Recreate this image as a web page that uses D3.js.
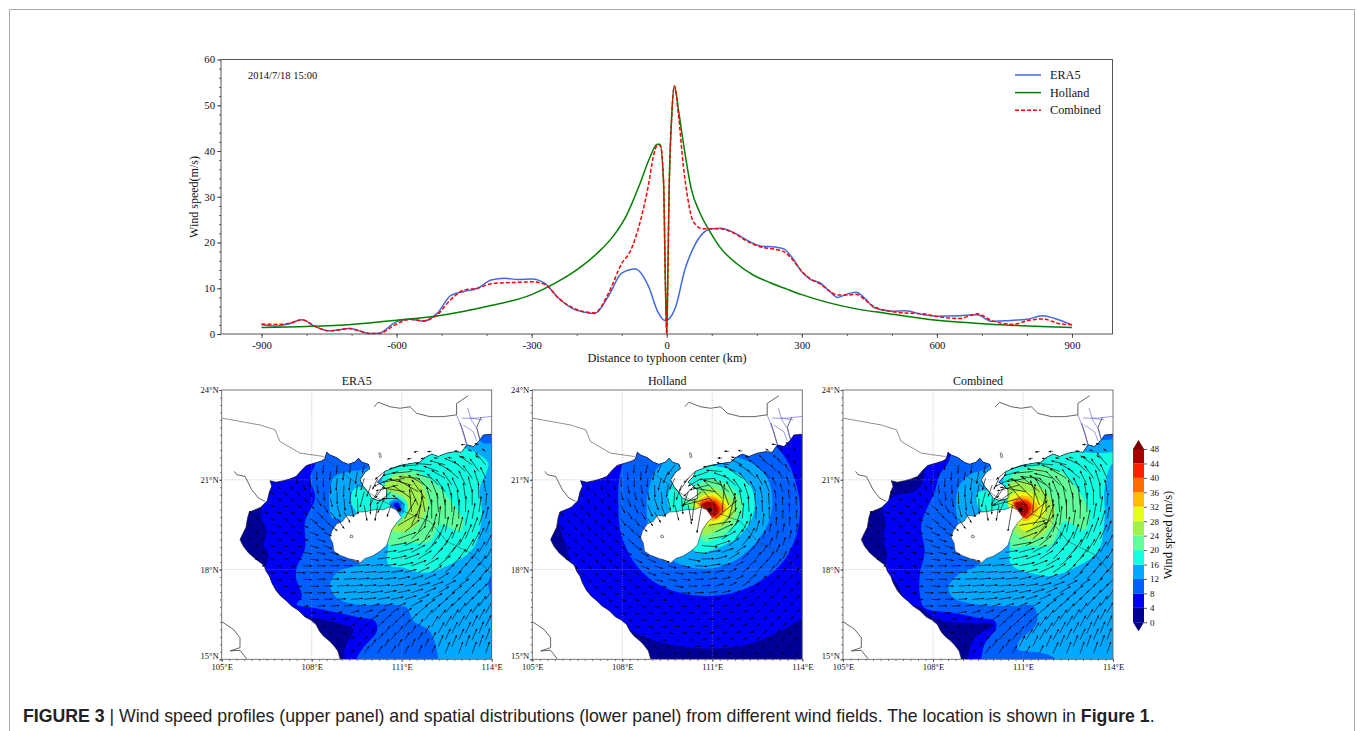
<!DOCTYPE html>
<html>
<head>
<meta charset="utf-8">
<title></title>
<script src="https://d3js.org/d3.v7.min.js"></script>
<style>
body { margin: 0; background: #fff; }
svg { display: block; }
text { font-family: "Liberation Serif", serif; fill: #111; }
.axis path, .axis line { stroke: #333; stroke-width: 0.8px; }
.axis text { font-family: "Liberation Serif", serif; fill: #111; }
.caption { font-family: "Liberation Sans", sans-serif; font-size: 17.7px; fill: #222; }
</style>
</head>
<body>
<script type="text/javascript">
// ---- wind profile, upper panel
var eraKm = [-900,-870,-840,-810,-780,-750,-704,-680,-660,-640,-600,-570,-540,-510,-480,-450,-420,-390,-360,-330,-300,-270,-240,-210,-180,-160,-130,-100,-70,-40,-20,-5,0,5,20,40,60,80,100,120,150,180,210,240,260,280,300,320,340,360,380,400,420,440,460,500,530,570,600,650,690,720,770,800,835,870,900];
var eraSpeed = [2,1.7,2.2,3.1,1.6,0.7,1.2,0.6,0.1,0.15,2.7,3.2,2.8,4.5,8.4,9.3,10,11.8,12.2,11.9,12,11,7.8,5.6,4.7,4.5,8.2,13.3,14.2,10.3,4.9,3,3,3.3,6,14,19,22,23,23.1,22.1,20.4,19.2,19,18.6,16.5,13.6,11.9,11.2,9.5,8,8.7,9.1,7.8,5.8,5,5.1,4.2,3.9,4,4.2,2.8,3,3.2,4,3.1,2];
var hollandKm = [-900,-800,-700,-600,-500,-400,-300,-250,-200,-155,-118,-89,-59,-37,-21,-15,-7,-3,0,2,5,11,17,26,37,55,74,96,118,155,192,230,267,300,415,489,600,711,900];
var hollandSpeed = [1.4,1.65,2.1,3,4.1,6,8.6,11,14,17.6,21.5,26,33,38.7,41.5,41.5,33,11,0,10,30,47.5,54.2,49,41.7,31.5,26.4,22.4,19,15.4,12.9,11.2,9.8,8.6,5.6,4.5,3,2.2,1.4];
var combinedKm = [-900,-870,-840,-810,-780,-750,-704,-660,-640,-600,-570,-540,-510,-480,-450,-420,-390,-360,-330,-300,-270,-240,-210,-180,-160,-130,-100,-80,-60,-40,-30,-21,-14,-7,-3,0,2,5,11,17,26,37,45,55,65,80,100,120,150,180,210,240,260,280,300,320,340,360,380,400,420,440,460,500,530,570,600,650,690,720,770,800,835,870,900];
var combinedSpeed = [2.2,2.1,2.3,3.1,1.6,0.7,1.2,0.1,0.1,2.2,3.2,2.9,4.2,7.5,9.6,10,11,11.2,11.3,11.4,10.8,7.8,5.8,4.8,4.6,8.8,15.4,18.3,24.2,32.9,38.7,41.2,41.2,33,11,0,10,30,47.5,54.2,48,36.6,30.7,25.6,23.8,23,23,23,22,20.2,19,18.5,18,16.2,13.7,12,11,9.5,8.5,8.5,8.7,7.5,6,4.9,4.6,4.4,3.8,3.4,4.4,3,2.1,2.9,3.3,2.3,2];
var profileNames = ["ERA5", "Holland", "Combined"];
var profileColors = ["#4169e1", "#008000", "#ff0000"];
var kmTicks = [-900,-600,-300,0,300,600,900];
var speedTicks = [0,10,20,30,40,50,60];

// ---- colour levels shared by the maps and the colour bar
var levels = [0,4,8,12,16,20,24,28,32,36,40,44];
var levelColors = ["#000096","#0000f5","#0060ff","#00a8ff","#12ffe2","#60ff9a","#a0f050","#e6ff14","#ffbc00","#ff6c00","#ff2000","#a80000"];
var barTicks = [0,4,8,12,16,20,24,28,32,36,40,44,48];

// ---- geography, lon/lat
var seaRing = [[108.95,15],[108.87,15.28],[108.72,15.48],[108.59,15.61],[108.39,15.78],[108.26,15.94],[108.14,16.17],[107.94,16.33],[107.78,16.41],[107.56,16.63],[107.33,16.78],[107.17,16.94],[106.97,17.11],[106.81,17.3],[106.67,17.56],[106.59,17.78],[106.48,17.94],[106.41,18.14],[106.22,18.28],[106.06,18.41],[105.89,18.56],[105.72,18.78],[105.61,19],[105.7,19.19],[105.81,19.41],[105.86,19.72],[105.92,19.92],[106.11,20],[106.3,20.08],[106.52,20.3],[106.59,20.59],[106.67,20.78],[106.61,20.97],[106.81,20.92],[107.06,20.97],[107.28,21.03],[107.48,21.11],[107.67,21.33],[107.83,21.48],[108.11,21.56],[108.33,21.63],[108.44,21.7],[108.5,21.92],[108.61,21.83],[108.83,21.74],[109.03,21.59],[109.22,21.52],[109.44,21.59],[109.56,21.72],[109.67,21.59],[109.89,21.52],[109.94,21.37],[109.78,21.26],[109.61,21],[109.72,20.78],[109.86,20.61],[110,20.39],[110.22,20.3],[110.5,20.37],[110.5,20.67],[110.33,20.83],[110.19,20.92],[110.37,21.11],[110.44,21.28],[110.67,21.37],[110.94,21.48],[111.28,21.54],[111.61,21.59],[111.78,21.74],[112,21.86],[112.22,21.78],[112.5,21.89],[112.78,21.94],[113,21.92],[113.17,22.17],[113.39,22.11],[113.61,22.33],[113.72,22.5],[114,22.52],[114,15]];
var hainanRing = [[108.67,19.28],[108.83,19.52],[109.03,19.61],[109.17,19.81],[109.39,19.78],[109.56,19.92],[109.83,19.94],[110.11,20],[110.39,20],[110.61,20.09],[110.81,20],[111,19.74],[110.83,19.56],[110.67,19.33],[110.58,19.06],[110.5,18.81],[110.28,18.61],[110,18.44],[109.78,18.37],[109.61,18.22],[109.39,18.3],[109.17,18.39],[108.94,18.48],[108.74,18.61],[108.7,18.89],[108.61,19.06]];
var islets = [[[110.24,21.9],[110.3,21.88],[110.32,21.76],[110.26,21.74]],[[109.3,19.16],[109.38,19.12],[109.36,19.06],[109.28,19.08]]];
var trackLine = [[105,23.06],[106.28,22.83],[106.78,22.67],[106.94,22.28],[107.61,21.89],[108.39,21.78],[109.17,21.11],[110.17,20.39],[111.06,19.94],[111.94,19.61],[112.5,18.94],[113.39,18.5],[114,17.83]];
var darkRivers = [
  [[110.08,23.44],[110.22,23.59],[110.61,23.44],[110.94,23.39],[111.28,23.44],[111.5,23.22],[111.94,23.11],[112.39,23.11],[112.83,23.17]],
  [[105.42,21.28],[105.5,21.17],[105.78,21.11],[105.89,20.89],[106,20.67],[106.22,20.39],[106.44,20.28]],
  [[105,16.26],[105.39,16],[105.61,15.72],[105.61,15.39],[105.28,15.28],[105.61,15.3],[105.83,15.02]],
  [[112.83,23.17],[112.83,23.55],[113.22,23.81]],
  [[113.17,22.17],[113.05,22.6],[112.95,22.9]],
  [[113.61,22.33],[113.5,22.75],[113.65,23.1]]
];
var blueRivers = [
  [[112.83,23.17],[113,22.72],[113.17,22.17]],
  [[113,23.06],[113.5,23.06],[114,23.12]],
  [[113.28,23.06],[113.5,22.72],[113.61,22.33]],
  [[113.05,22.83],[113.39,22.6],[113.5,22.3]],
  [[113.2,23.4],[113.3,23.06],[113.7,23]]
];
var eyePoint = [110.92,20];

// ---- filled wind contours, each row is [lower level, ring in lon/lat]
var era5Bands = [
  [4,[[109.11,14.9],[109.11,15.39],[109.39,16],[108.83,16.22],[108.39,16.33],[107.83,16.44],[107.28,16.83],[106.86,17.28],[106.61,17.61],[106.44,17.94],[106.56,18.5],[106.41,18.83],[106.5,19.28],[106.33,19.72],[106.33,20.11],[106.33,21.17],[107.28,24.06],[114.5,24.2],[114.5,14.5],[109.11,14.5]]],
  [8,[[109.5,14.5],[109.5,15.02],[109.72,15.39],[110.17,15.94],[110.11,16.28],[109.61,16.39],[108.83,16.56],[108.06,16.72],[107.5,16.83],[107.67,17.11],[107.48,17.72],[107.5,18.06],[107.78,18.72],[107.78,19.61],[108.11,20.39],[107.94,21.06],[108.11,21.5],[108.17,22.28],[109,24.2],[114.5,24.2],[114.5,14.5]]],
  [12,[[112.22,14.5],[112.22,15.02],[111.94,15.94],[111.39,16.28],[111.17,16.72],[110.61,16.83],[109.5,16.83],[108.83,17.06],[108.61,17.5],[108.89,17.94],[109.61,18.22],[109.28,18.94],[108.94,19.67],[108.67,19.72],[108.72,21.06],[109.28,21.28],[109.83,21.37],[110.17,21.72],[111.72,22.28],[113.5,22.39],[113.72,22.22],[114,22.22],[114.5,22.2],[114.5,14.5]]],
  [8,[[114.2,17.9],[113.93,17.72],[113.92,17.3],[114.2,17]]],
  [16,[[110.56,18.94],[110.56,18.17],[111.06,18.06],[111.72,17.89],[112.61,18.17],[113.39,18.72],[113.67,19.83],[113.61,20.72],[113.83,21.28],[113.89,21.56],[113.5,21.89],[112.83,22.11],[111.17,21.94],[110.5,21.39],[110.33,20.83],[110.5,20.06]]],
  [16,[[109.83,20.78],[109.39,20.67],[109.33,20.22],[109.61,19.83],[110.28,19.83],[110.61,20.17],[110.5,20.72],[110.11,20.83]]],
  [20,[[110.5,20.72],[110.61,21.11],[111.17,21.33],[111.72,21.17],[112.28,20.72],[112.72,20.17],[113.06,19.61],[112.94,19.28],[112.28,19.5],[111.94,18.94],[111.17,18.89],[110.56,18.83],[110.61,19.28],[111.06,19.72]]],
  [24,[[110.41,20.72],[110.61,21.03],[111.17,21.17],[111.61,20.94],[111.86,20.28],[111.78,19.89],[111.5,19.5],[111.06,19.26],[110.67,19.33],[111.06,19.72],[111.22,20.11],[111.06,20.44],[110.67,20.61]]],
  [16,[[110.5,20.28],[110.83,20.44],[111.17,20.22],[111.19,19.92],[111,19.72],[110.61,20.06]]],
  [12,[[110.58,20.23],[110.83,20.37],[111.08,20.19],[111.08,19.92],[110.94,19.83],[110.66,20.03]]],
  [8,[[110.64,20.21],[110.83,20.3],[111,20.17],[111,19.97],[110.7,20.06]]],
  [4,[[110.74,20.19],[110.86,20.24],[110.94,20.11],[110.92,20],[110.78,20.06]]]
];
var hollandBands = [
  [4,[[105.83,19.72],[106.08,18.94],[106.31,18.17],[106.58,17.61],[107.25,16.72],[107.92,16.17],[108.81,15.72],[109.92,15.44],[111.03,15.36],[112.14,15.49],[113.14,15.88],[114,16.37],[114.5,16.7],[115,20],[114.5,23.4],[111,25.7],[107.2,24.8],[105.8,22.3]]],
  [8,[[107.87,20.06],[107.94,19.28],[108.37,18.28],[109.03,17.61],[109.92,17.22],[110.81,17.11],[111.7,17.22],[112.59,17.61],[113.37,18.28],[113.81,19.17],[113.92,20.17],[113.7,21.17],[113.37,21.83],[112.81,22.39],[111.72,22.94],[109.48,23.06],[108.37,22.28],[107.92,21.17]]],
  [12,[[108.81,20.06],[108.89,19.39],[109.28,18.61],[109.94,18.17],[110.81,18.03],[111.61,18.22],[112.39,18.83],[112.89,19.61],[113,20.39],[112.83,21.06],[112.33,21.56],[111.72,21.78],[110.83,22],[109.83,21.83],[109.17,21.39],[108.89,20.72]]],
  [16,[[109.56,20.06],[109.56,20.61],[109.83,21.06],[110.39,21.39],[111.17,21.44],[111.83,21.22],[112.28,20.78],[112.41,20.22],[112.28,19.61],[111.83,19.06],[111.17,18.72],[110.5,18.56],[110.06,19.28]]],
  [20,[[110.03,20.22],[110.39,20.78],[111.06,21],[111.67,20.72],[112,20.17],[111.83,19.61],[111.39,19.17],[110.72,18.94],[110.5,19.5],[110.5,19.94]]],
  [24,[[110.28,20.22],[110.5,20.56],[111.06,20.72],[111.5,20.5],[111.78,20.11],[111.67,19.72],[111.28,19.39],[110.67,19.17],[110.56,19.72]]],
  [28,[[110.44,20.22],[110.67,20.47],[111.06,20.56],[111.44,20.33],[111.61,20.06],[111.44,19.72],[111.11,19.5],[110.72,19.5],[110.61,19.83]]],
  [32,[[110.5,20.22],[110.72,20.42],[111.06,20.44],[111.33,20.28],[111.47,20.06],[111.33,19.78],[111.06,19.63],[110.78,19.78]]],
  [36,[[110.58,20.2],[110.78,20.37],[111.06,20.37],[111.28,20.22],[111.39,20.03],[111.24,19.78],[111.04,19.7],[110.9,19.83]]],
  [40,[[110.61,20.19],[110.81,20.3],[111.06,20.3],[111.22,20.14],[111.28,20],[111.14,19.78],[111,19.74]]],
  [44,[[110.67,20.17],[110.83,20.26],[111.03,20.22],[111.17,20.08],[111.17,19.89],[111.03,19.78]]]
];
var combinedBands = [
  [4,[[109.17,14.5],[109.17,15.02],[109.39,15.72],[110.03,16.14],[108.94,16.22],[108.17,16.33],[107.61,16.72],[107.06,16.94],[106.86,17.44],[106.44,18.06],[106.48,18.5],[106.37,18.94],[106.41,19.61],[106.33,20.11],[106.83,20.5],[107.28,20.56],[107.61,20.83],[107.72,21.28],[107.28,24.06],[114.5,24.2],[114.5,14.5]]],
  [8,[[109.61,14.5],[109.61,15.02],[109.72,15.5],[110.11,16.06],[110.06,16.28],[109.5,16.39],[108.61,16.56],[107.72,16.72],[107.56,17.17],[107.56,17.83],[107.72,18.61],[107.61,19.5],[108.06,20.61],[108.22,21.17],[108.5,21.56],[108.72,22.28],[109.5,24.2],[114.5,24.2],[114.5,14.5]]],
  [12,[[112.07,14.5],[112.07,15.02],[111.57,15.22],[110.84,15.33],[110.84,15.56],[111.46,16.22],[111.34,16.78],[110.79,16.78],[109.46,16.83],[108.68,17.06],[108.51,17.39],[108.84,17.83],[109.57,18.22],[109.28,18.94],[108.83,19.61],[108.84,20.72],[109.23,21.17],[109.79,21.37],[110.17,21.72],[111.72,22.28],[113.5,22.39],[113.72,22.33],[114.5,22.3],[114.5,14.5]]],
  [16,[[110.56,18.94],[110.61,18.17],[111.5,17.83],[111.94,17.78],[112.72,18.06],[113.5,18.61],[113.72,19.72],[113.72,20.72],[114,21.56],[114.5,21.6],[114.5,21.9],[113.5,21.89],[111.17,21.94],[110.5,21.39],[110.33,20.83],[110.5,20.06]]],
  [16,[[109.5,20.56],[109.5,20.11],[109.78,19.89],[110.33,19.89],[110.61,20.28],[110.39,20.72],[109.94,20.67]]],
  [20,[[110.5,20.83],[110.67,21.17],[111.5,21.44],[112.17,21.33],[112.61,20.94],[113.06,20.28],[113.22,19.83],[113.06,19.33],[112.39,19.61],[111.94,18.83],[111.06,18.78],[110.61,18.72],[110.61,19.28]]],
  [24,[[110.44,20.67],[110.67,20.92],[111.17,20.94],[111.72,20.61],[112.06,20.06],[111.94,19.5],[111.5,19.06],[111.06,19.06],[110.72,19.28],[110.83,19.61]]],
  [28,[[110.5,20.28],[110.72,20.56],[111.17,20.61],[111.61,20.28],[111.78,20.06],[111.5,19.56],[111.06,19.28],[110.83,19.5]]],
  [32,[[110.61,20.28],[110.83,20.44],[111.17,20.44],[111.44,20.22],[111.5,20],[111.28,19.72],[111.06,19.61],[110.89,19.78]]],
  [36,[[110.67,20.22],[110.89,20.37],[111.17,20.33],[111.36,20.11],[111.33,19.89],[111.11,19.7],[111,19.74]]],
  [40,[[110.7,20.22],[110.89,20.3],[111.14,20.28],[111.28,20.11],[111.22,19.89],[111.06,19.72]]],
  [44,[[110.74,20.2],[110.92,20.26],[111.11,20.19],[111.19,20.06],[111.14,19.89],[111.02,19.78]]]
];

// ---- wind vectors: direction in degrees (0 east, 90 north), _ where none was drawn
// the vectors sit on two staggered grids, A and B
var _ = null;
var lonsA = [105.25,105.7,106.15,106.6,107.05,107.5,107.95,108.4,108.85,109.3,109.75,110.2,110.65,111.1,111.55,112,112.45,112.9,113.35,113.8];
var latsA = [22.4,21.95,21.5,21.05,20.6,20.15,19.7,19.25,18.8,18.35,17.9,17.45,17,16.55,16.1,15.65,15.2];
var lonsB = [105.475,105.925,106.375,106.825,107.275,107.725,108.175,108.625,109.075,109.525,109.975,110.425,110.875,111.325,111.775,112.225,112.675,113.125,113.575];
var latsB = [22.175,21.725,21.275,20.825,20.375,19.925,19.475,19.025,18.575,18.125,17.675,17.225,16.775,16.325,15.875,15.425];
var era5DirA = [
  [_,_,_,_,_,_,_,_,_,_,_,_,_,_,_,_,_,_,_,_],
  [_,_,_,_,_,_,_,_,_,_,_,_,_,_,190,185,_,175,160,145],
  [_,_,_,_,_,_,_,265,265,262,258,_,_,195,185,175,165,155,145,130],
  [_,_,_,_,_,275,270,268,265,262,255,245,205,190,175,165,150,140,125,115],
  [_,_,_,330,320,310,290,275,270,265,255,240,220,170,150,135,125,115,105,100],
  [_,_,_,345,340,335,320,300,285,285,280,260,250,140,115,105,100,95,90,85],
  [_,_,350,345,340,335,325,315,305,_,_,_,_,60,80,90,90,88,80,78],
  [_,_,345,345,345,340,338,335,_,_,_,_,_,40,60,75,78,75,70,70],
  [_,_,350,350,350,348,345,340,_,_,_,_,10,25,40,55,62,62,62,62],
  [_,_,355,355,355,355,352,350,348,345,_,8,12,20,32,45,50,55,58,60],
  [_,_,_,350,355,357,358,0,2,5,5,5,10,15,25,35,42,48,52,55],
  [_,_,_,_,355,355,357,0,3,5,5,5,8,10,15,20,28,35,42,48],
  [_,_,_,_,_,0,0,2,5,5,8,10,12,18,24,30,38,45,50,55],
  [_,_,_,_,_,_,5,5,10,15,20,25,30,35,40,45,50,55,55,60],
  [_,_,_,_,_,_,_,15,20,30,35,40,45,50,55,58,60,62,65,65],
  [_,_,_,_,_,_,_,_,30,40,45,50,55,58,60,62,65,65,67,70],
  [_,_,_,_,_,_,_,_,_,50,55,58,60,62,65,65,68,70,70,72]
];
var era5DirB = [
  [_,_,_,_,_,_,_,_,_,_,_,_,_,_,_,_,_,180,165],
  [_,_,_,_,_,_,_,_,_,_,_,_,_,195,190,178,170,160,145],
  [_,_,_,_,_,_,268,265,263,260,_,220,195,185,172,160,150,138,125],
  [_,_,_,315,305,290,278,272,268,262,250,235,195,165,150,135,125,115,108],
  [_,_,_,340,330,318,300,282,275,272,268,245,180,145,125,112,105,98,92],
  [_,350,348,345,340,330,315,305,300,_,_,_,_,95,100,95,92,88,82],
  [_,345,345,342,340,335,328,322,_,_,_,_,30,65,78,84,82,78,72],
  [_,350,348,346,344,342,340,_,_,_,_,_,20,42,58,68,70,68,65],
  [_,_,352,352,351,350,348,345,_,_,_,8,15,28,42,52,56,58,60],
  [_,_,352,355,356,358,0,2,2,5,6,8,12,20,30,40,46,52,55],
  [_,_,_,352,355,357,0,2,4,5,6,8,12,18,25,32,40,46,50],
  [_,_,_,_,357,0,0,3,5,6,8,10,12,18,24,30,36,44,48],
  [_,_,_,_,_,2,3,5,8,12,15,18,22,28,34,40,46,50,55],
  [_,_,_,_,_,_,12,15,22,28,32,36,42,46,52,55,58,60,62],
  [_,_,_,_,_,_,_,25,35,42,48,52,56,60,60,63,64,65,68],
  [_,_,_,_,_,_,_,_,45,52,56,60,62,65,66,68,68,70,70]
];
var hollandDirA = [
  [_,_,_,_,_,_,_,_,_,_,_,_,_,_,_,_,_,_,_,_],
  [_,_,_,_,_,_,_,_,_,_,_,_,_,_,180,165,_,145,140,135],
  [_,_,_,_,_,_,_,265,255,245,235,_,_,190,170,155,145,140,130,125],
  [_,_,_,_,_,280,275,270,265,255,245,235,210,185,160,145,135,128,122,118],
  [_,_,_,295,295,290,285,285,280,275,265,250,215,170,140,125,118,112,108,106],
  [_,_,_,300,300,300,298,295,292,290,285,280,260,130,110,100,96,94,92,92],
  [_,_,305,305,305,305,305,305,305,_,_,_,_,40,75,85,88,90,90,88],
  [_,_,310,310,310,312,315,318,_,_,_,_,_,25,50,65,73,78,80,82],
  [_,_,318,320,320,322,325,328,_,_,_,_,355,18,37,52,62,69,73,75],
  [_,_,325,325,328,330,332,335,338,340,_,350,2,15,31,43,53,60,66,70],
  [_,_,_,330,332,333,335,338,342,345,350,355,3,15,27,37,46,53,59,64],
  [_,_,_,_,335,336,338,342,345,348,352,358,5,15,25,33,41,48,54,58],
  [_,_,_,_,_,340,342,345,348,352,356,0,5,13,22,30,38,45,50,55],
  [_,_,_,_,_,_,345,348,351,354,358,2,6,13,20,28,35,40,46,50],
  [_,_,_,_,_,_,_,350,353,356,0,3,7,13,20,26,32,38,43,47],
  [_,_,_,_,_,_,_,_,355,358,1,4,8,13,19,25,30,35,40,44],
  [_,_,_,_,_,_,_,_,_,0,3,6,9,13,18,23,28,33,37,41]
];
var hollandDirB = [
  [_,_,_,_,_,_,_,_,_,_,_,_,_,_,_,_,_,175,150],
  [_,_,_,_,_,_,_,_,_,_,_,_,_,180,165,150,142,135,130],
  [_,_,_,_,_,_,272,268,258,248,_,225,200,175,155,145,135,128,122],
  [_,_,_,292,290,288,282,278,272,262,250,225,195,165,140,128,120,115,110],
  [_,_,_,298,296,295,292,290,288,282,275,262,195,135,118,108,102,100,98],
  [_,303,303,303,302,302,302,300,300,_,_,_,_,85,92,93,93,92,92],
  [_,308,308,308,310,310,312,314,_,_,_,_,10,50,70,79,84,87,88],
  [_,312,314,315,316,318,320,_,_,_,_,_,10,30,52,64,72,76,78],
  [_,_,320,322,323,325,328,332,_,_,_,355,8,20,33,47,57,64,70],
  [_,_,325,328,330,332,335,338,342,345,350,357,8,15,28,38,48,55,61],
  [_,_,_,333,335,337,340,343,346,350,355,0,8,15,24,33,42,50,55],
  [_,_,_,_,338,340,343,346,349,353,357,2,8,14,22,30,38,45,50],
  [_,_,_,_,_,343,346,349,352,355,359,3,8,13,20,27,35,41,47],
  [_,_,_,_,_,_,348,351,353,357,0,4,8,13,19,25,31,37,42],
  [_,_,_,_,_,_,_,352,355,358,1,5,8,13,18,23,29,34,38],
  [_,_,_,_,_,_,_,_,356,359,2,5,8,12,17,21,26,31,35]
];

var panelNames = ["ERA5", "Holland", "Combined"];
var latTicks = [15,18,21,24];
var lonTicks = [105,108,111,114];

var svg = d3.select("body").append("svg")
  .attr("width", 1357)
  .attr("height", 731);

// page frame
svg.append("path")
  .attr("d", "M9.5,731V9.5H1354.5V731")
  .attr("fill", "none")
  .attr("stroke", "#aaa")
  .attr("stroke-width", 1);

// ### PROFILE
var margin = {left: 221, top: 59.5, right: 1112.5, bottom: 334};
var x = d3.scaleLinear().domain([-990, 990]).range([margin.left, margin.right]);
var y = d3.scaleLinear().domain([0, 60]).range([margin.bottom, margin.top]);

var xMinor = d3.axisBottom(x).tickValues(d3.range(-900, 901, 100)).tickSize(2).tickFormat("");
var yMinor = d3.axisLeft(y).tickValues(d3.range(0, 61, 2)).tickSize(2).tickFormat("");
var xAxis = d3.axisBottom(x).tickValues(kmTicks).tickSize(4).tickPadding(3).tickFormat(String);
var yAxis = d3.axisLeft(y).tickValues(speedTicks).tickSize(4).tickPadding(2).tickFormat(String);

[xMinor, xAxis].forEach(function(a) {
  svg.append("g").attr("class", "axis").attr("transform", "translate(0," + margin.bottom + ")")
    .style("font-size", "10.7px").call(a).select(".domain").remove();
});
[yMinor, yAxis].forEach(function(a) {
  svg.append("g").attr("class", "axis").attr("transform", "translate(" + margin.left + ",0)")
    .style("font-size", "10.7px").call(a).select(".domain").remove();
});

var line = d3.line()
  .x(function(d) { return x(d[0]); })
  .y(function(d) { return y(d[1]); })
  .curve(d3.curveMonotoneX);

var profiles = [d3.zip(eraKm, eraSpeed), d3.zip(hollandKm, hollandSpeed), d3.zip(combinedKm, combinedSpeed)];
profiles.forEach(function(p, i) {
  svg.append("path")
    .attr("d", line(p))
    .attr("fill", "none")
    .attr("stroke", profileColors[i])
    .attr("stroke-width", 1.5)
    .attr("stroke-dasharray", i == 2 ? "4,2" : null);
});

svg.append("rect")
  .attr("x", margin.left).attr("y", margin.top)
  .attr("width", margin.right - margin.left).attr("height", margin.bottom - margin.top)
  .attr("fill", "none").attr("stroke", "#555").attr("stroke-width", 1);

svg.append("text").attr("x", 248).attr("y", 78.5).style("font-size", "10.5px").text("2014/7/18 15:00");

profileNames.forEach(function(n, i) {
  var ly = 75 + i * 17.6;
  svg.append("line").attr("x1", 1015).attr("x2", 1041).attr("y1", ly).attr("y2", ly)
    .attr("stroke", profileColors[i]).attr("stroke-width", 1.5)
    .attr("stroke-dasharray", i == 2 ? "4,2" : null);
  svg.append("text").attr("x", 1050).attr("y", ly + 4).style("font-size", "12.2px").text(n);
});

svg.append("text").attr("x", 667).attr("y", 362).attr("text-anchor", "middle")
  .style("font-size", "12.3px").text("Distance to typhoon center (km)");
svg.append("text").attr("transform", "translate(198,197) rotate(-90)").attr("text-anchor", "middle")
  .style("font-size", "12px").text("Wind speed(m/s)");

// ### MAPS
var lon = d3.scaleLinear().domain([105, 114]).range([0, 270]);
var lat = d3.scaleLinear().domain([15, 24]).range([269.3, 0]);
var speedLen = d3.scaleLinear().domain([0, 48]).range([0, 42]);

var geoLine = d3.line()
  .x(function(d) { return lon(d[0]); })
  .y(function(d) { return lat(d[1]); });
var bandLine = d3.line()
  .x(function(d) { return lon(d[0]); })
  .y(function(d) { return lat(d[1]); })
  .curve(d3.curveCatmullRomClosed.alpha(0.5));

var defs = svg.append("defs");
var marker = defs.append("marker")
  .attr("id", "head")
  .attr("markerUnits", "userSpaceOnUse")
  .attr("markerWidth", 3).attr("markerHeight", 3)
  .attr("refX", 2.4).attr("refY", 1)
  .attr("orient", "auto");
marker.append("path").attr("d", "M0,0L2.6,1L0,2Z").attr("fill", "#000");

defs.append("clipPath").attr("id", "frameClip").append("rect")
  .attr("width", lon(114)).attr("height", lat(15));
defs.append("clipPath").attr("id", "seaClip").append("path")
  .attr("d", geoLine(seaRing) + "Z");

// speed used for the arrow length is the middle of the contour the arrow starts in
function cellSpeed(bands, px, py) {
  var s = 2;
  bands.forEach(function(b) {
    if (d3.polygonContains(b[1], [px, py])) s = b[0] + 2;
  });
  if (py > 21.7) s = 5;
  return s;
}

function drawArrows(g, bands, lons, lats, dirs, eyeDirs) {
  dirs.forEach(function(row, j) {
    row.forEach(function(deg, i) {
      if (deg === null) return;
      var speed = cellSpeed(bands, lons[i], lats[j]);
      // the combined field takes the Holland winds inside the eye wall
      if (eyeDirs && speed >= 26 && eyeDirs[j][i] !== null) deg = eyeDirs[j][i];
      var a = deg * Math.PI / 180;
      var len = Math.min(speedLen(speed), 28);
      g.append("line")
        .attr("x1", lon(lons[i])).attr("y1", lat(lats[j]))
        .attr("x2", lon(lons[i]) + len * Math.cos(a))
        .attr("y2", lat(lats[j]) - len * Math.sin(a))
        .attr("stroke", "#000").attr("stroke-width", 0.65)
        .attr("marker-end", "url(#head)");
    });
  });
}

function drawMap(g, bands, dirA, dirB, eyeA, eyeB, title) {
  var clipped = g.append("g").attr("clip-path", "url(#frameClip)");
  var sea = clipped.append("g").attr("clip-path", "url(#seaClip)");
  sea.append("rect").attr("width", lon(114)).attr("height", lat(15)).attr("fill", levelColors[0]);
  sea.selectAll("path.band").data(bands).enter().append("path")
    .attr("class", "band")
    .attr("d", function(d) { return bandLine(d[1]); })
    .attr("fill", function(d) { return levelColors[levels.indexOf(d[0])]; });

  clipped.append("path").attr("d", geoLine(hainanRing) + "Z")
    .attr("fill", "#fff").attr("stroke", "#333").attr("stroke-width", 0.6);
  clipped.append("path").attr("d", geoLine(seaRing.slice(0, -1)))
    .attr("fill", "none").attr("stroke", "#222").attr("stroke-width", 0.7);
  islets.forEach(function(r) {
    clipped.append("path").attr("d", geoLine(r) + "Z").attr("fill", "#fff").attr("stroke", "#333").attr("stroke-width", 0.6);
  });
  clipped.append("path").attr("d", geoLine(trackLine))
    .attr("fill", "none").attr("stroke", "#444").attr("stroke-width", 0.6);
  darkRivers.forEach(function(r) {
    clipped.append("path").attr("d", geoLine(r)).attr("fill", "none").attr("stroke", "#222").attr("stroke-width", 0.7);
  });
  blueRivers.forEach(function(r) {
    clipped.append("path").attr("d", geoLine(r)).attr("fill", "none").attr("stroke", "#5a5ae0").attr("stroke-width", 0.6);
  });

  // dotted graticule
  [108, 111].forEach(function(v) {
    clipped.append("line").attr("x1", lon(v)).attr("x2", lon(v)).attr("y1", 0).attr("y2", lat(15))
      .attr("stroke", "#999").attr("stroke-width", 0.7).attr("stroke-dasharray", "1,1.5").attr("opacity", 0.8);
  });
  [18, 21].forEach(function(v) {
    clipped.append("line").attr("y1", lat(v)).attr("y2", lat(v)).attr("x1", 0).attr("x2", lon(114))
      .attr("stroke", "#999").attr("stroke-width", 0.7).attr("stroke-dasharray", "1,1.5").attr("opacity", 0.8);
  });

  drawArrows(clipped, bands, lonsA, latsA, dirA, eyeA);
  drawArrows(clipped, bands, lonsB, latsB, dirB, eyeB);
  clipped.append("circle").attr("cx", lon(eyePoint[0])).attr("cy", lat(eyePoint[1])).attr("r", 2).attr("fill", "#000");

  var lonMinor = d3.axisBottom(lon).tickValues(d3.range(105, 114.01, 0.25)).tickSize(1.5).tickFormat("");
  var latMinor = d3.axisLeft(lat).tickValues(d3.range(15, 24.01, 0.25)).tickSize(1.5).tickFormat("");
  var lonAxis = d3.axisBottom(lon).tickValues(lonTicks).tickSize(2.5).tickPadding(2)
    .tickFormat(function(d) { return d + "°E"; });
  var latAxis = d3.axisLeft(lat).tickValues(latTicks).tickSize(2.5).tickPadding(0.5)
    .tickFormat(function(d) { return d + "°N"; });
  [lonMinor, lonAxis].forEach(function(a) {
    g.append("g").attr("class", "axis").attr("transform", "translate(0," + lat(15) + ")")
      .style("font-size", "8.6px").call(a).select(".domain").remove();
  });
  [latMinor, latAxis].forEach(function(a) {
    var ax = g.append("g").attr("class", "axis").style("font-size", "8.6px").call(a);
    ax.select(".domain").remove();
    // 15N sits a little above its tick so it clears the 105E label
    ax.selectAll("text").filter(function(d) { return d == 15; }).attr("dy", "-0.1em");
  });

  g.append("rect").attr("width", lon(114)).attr("height", lat(15))
    .attr("fill", "none").attr("stroke", "#666").attr("stroke-width", 0.9);
  g.append("text").attr("x", lon(109.5)).attr("y", -5).attr("text-anchor", "middle")
    .style("font-size", "12px").text(title);
}

var panelX = [221.7, 532.3, 843];
var panelG = panelNames.map(function(n, i) {
  return svg.append("g").attr("transform", "translate(" + panelX[i] + ",390)");
});
drawMap(panelG[0], era5Bands, era5DirA, era5DirB, null, null, panelNames[0]);
drawMap(panelG[1], hollandBands, hollandDirA, hollandDirB, null, null, panelNames[1]);
drawMap(panelG[2], combinedBands, era5DirA, era5DirB, hollandDirA, hollandDirB, panelNames[2]);

// ### COLOUR BAR
var bar = d3.scaleLinear().domain([0, 48]).range([622.3, 449]);
var barX = 1133, barW = 11;
levels.forEach(function(l, i) {
  svg.append("rect").attr("x", barX).attr("width", barW)
    .attr("y", bar(l + 4)).attr("height", bar(l) - bar(l + 4))
    .attr("fill", levelColors[i]);
});
svg.append("path").attr("fill", "#00007a")
  .attr("d", "M" + barX + "," + bar(0) + "L" + (barX + barW / 2) + "," + (bar(0) + 9) + "L" + (barX + barW) + "," + bar(0) + "Z");
svg.append("path").attr("fill", "#7a0000")
  .attr("d", "M" + barX + "," + bar(48) + "L" + (barX + barW / 2) + "," + (bar(48) - 9) + "L" + (barX + barW) + "," + bar(48) + "Z");
svg.append("g").attr("class", "axis").attr("transform", "translate(" + (barX + barW) + ",0)")
  .style("font-size", "9px")
  .call(d3.axisRight(bar).tickValues(barTicks).tickSize(3).tickPadding(3).tickFormat(String))
  .select(".domain").remove();
svg.append("text").attr("transform", "translate(1172,535) rotate(-90)").attr("text-anchor", "middle")
  .style("font-size", "12.5px").text("Wind speed (m/s)");

// ### CAPTION
var cap = svg.append("text").attr("class", "caption").attr("x", 23).attr("y", 722);
cap.append("tspan").attr("font-weight", "bold").text("FIGURE 3");
cap.append("tspan").text(" | Wind speed profiles (upper panel) and spatial distributions (lower panel) from different wind fields. The location is shown in ");
cap.append("tspan").attr("font-weight", "bold").text("Figure 1");
cap.append("tspan").text(".");
</script>
</body>
</html>
